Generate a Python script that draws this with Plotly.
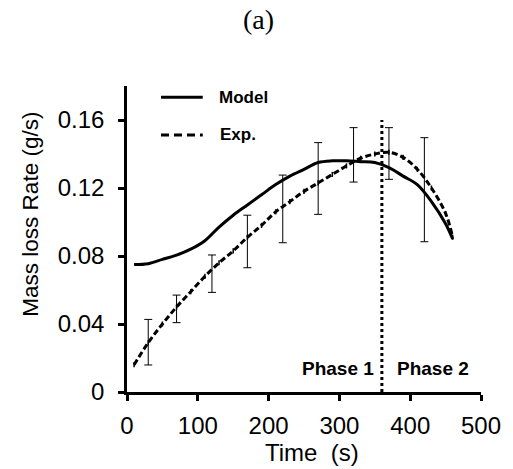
import plotly.graph_objects as go

# ---- data ----
time_s = [10, 30, 50, 70, 90, 110, 130, 150, 170, 190, 210, 230, 250, 270,
          290, 310, 330, 350, 370, 390, 410, 430, 450, 460]
model_rate = [0.075, 0.0755, 0.078, 0.0805, 0.084, 0.089, 0.097, 0.104, 0.110,
              0.116, 0.122, 0.127, 0.131, 0.135, 0.136, 0.136, 0.1355, 0.135,
              0.132, 0.127, 0.122, 0.112, 0.099, 0.090]
exp_rate = [0.016, 0.029, 0.040, 0.050, 0.059, 0.068, 0.076, 0.083, 0.091,
            0.098, 0.106, 0.112, 0.118, 0.123, 0.128, 0.133, 0.1375, 0.140,
            0.141, 0.138, 0.131, 0.120, 0.105, 0.091]

err_time = [30, 70, 120, 170, 220, 270, 320, 370, 420]
err_center = [0.029, 0.050, 0.072, 0.091, 0.109, 0.123, 0.136, 0.141, 0.125]
err_upper = [0.0427, 0.057, 0.0806, 0.104, 0.1276, 0.1467, 0.1555, 0.1555, 0.1496]
err_lower = [0.0159, 0.0408, 0.0586, 0.0731, 0.0878, 0.1045, 0.1235, 0.1251, 0.0884]

phase_boundary = 360
x_ticks = [0, 100, 200, 300, 400, 500]
y_ticks = [0, 0.04, 0.08, 0.12, 0.16]
y_tick_labels = ["0", "0.04", "0.08", "0.12", "0.16"]

FONT = "Liberation Sans, Arial, sans-serif"

fig = go.Figure()

fig.add_trace(go.Scatter(
    x=time_s, y=model_rate, mode="lines", name="Model",
    line=dict(color="black", width=3, shape="spline"), showlegend=False))

fig.add_trace(go.Scatter(
    x=time_s, y=exp_rate, mode="lines", name="Exp.",
    line=dict(color="black", width=3, dash="6px,3px", shape="spline"),
    error_y=dict(type="constant", value=0.0015, color="black", thickness=1.5, width=0),
    showlegend=False))

fig.add_trace(go.Scatter(
    x=err_time, y=err_center, mode="markers", marker=dict(size=1, color="black", opacity=0),
    error_y=dict(type="data", symmetric=False,
                 array=[u - c for u, c in zip(err_upper, err_center)],
                 arrayminus=[c - l for l, c in zip(err_lower, err_center)],
                 color="black", thickness=1, width=4),
    showlegend=False))

fig.add_trace(go.Scatter(
    x=[phase_boundary, phase_boundary], y=[0, 0.16], mode="lines",
    line=dict(color="black", width=3, dash="dot"), showlegend=False))

# legend (manual)
fig.add_shape(type="line", xref="paper", yref="paper", x0=0.096, x1=0.214, y0=0.963, y1=0.963,
              line=dict(color="black", width=3))
fig.add_shape(type="line", xref="paper", yref="paper", x0=0.096, x1=0.214, y0=0.840, y1=0.840,
              line=dict(color="black", width=3, dash="8px,5px"))
fig.add_annotation(text="<b>Model</b>", xref="paper", yref="paper", x=0.253, y=0.963,
                   xanchor="left", yanchor="middle", showarrow=False,
                   font=dict(family=FONT, size=17, color="black"))
fig.add_annotation(text="<b>Exp.</b>", xref="paper", yref="paper", x=0.256, y=0.840,
                   xanchor="left", yanchor="middle", showarrow=False,
                   font=dict(family=FONT, size=17, color="black"))

# phase labels
fig.add_annotation(text="<b>Phase 1</b>", x=352, y=0.0141, xanchor="right", yanchor="middle",
                   showarrow=False, font=dict(family=FONT, size=19, color="black"))
fig.add_annotation(text="<b>Phase 2</b>", x=378, y=0.0141, xanchor="left", yanchor="middle",
                   showarrow=False, font=dict(family=FONT, size=19, color="black"))

# title (a)
fig.add_annotation(text="(a)", xref="paper", yref="paper", x=(261 - 127) / 360, y=1 + (86 - 20) / 306,
                   xanchor="center", yanchor="middle", showarrow=False,
                   font=dict(family="Liberation Serif, Times New Roman, serif", size=28, color="black"))

# y title
fig.add_annotation(text="Mass loss Rate (g/s)", xref="paper", yref="paper",
                   x=(28 - 127) / 360, y=1 - (214 - 86) / 306, textangle=-90,
                   xanchor="center", yanchor="middle", showarrow=False,
                   font=dict(family=FONT, size=22.5, color="black"))
# x title
fig.add_annotation(text="Time  (s)", xref="paper", yref="paper",
                   x=(315 - 127) / 360, y=-(452 - 392) / 306,
                   xanchor="center", yanchor="middle", showarrow=False,
                   font=dict(family=FONT, size=24, color="black"))

fig.update_layout(
    width=513, height=469,
    margin=dict(l=127, r=26, t=86, b=77),
    paper_bgcolor="white", plot_bgcolor="white",
    xaxis=dict(range=[0, 500], tickvals=x_ticks, showgrid=False, zeroline=False,
               showline=True, linecolor="black", linewidth=2.5,
               ticks="outside", ticklen=6, tickwidth=2.5, tickcolor="black",
               ticklabelstandoff=4,
               tickfont=dict(family=FONT, size=24, color="black")),
    yaxis=dict(range=[0, 0.18], tickvals=y_ticks, ticktext=y_tick_labels, showgrid=False,
               zeroline=False, showline=True, linecolor="black", linewidth=2.5,
               ticks="outside", ticklen=6, tickwidth=2.5, tickcolor="black",
               ticklabelstandoff=9,
               tickfont=dict(family=FONT, size=24, color="black")),
)

fig.write_html("out.html")
